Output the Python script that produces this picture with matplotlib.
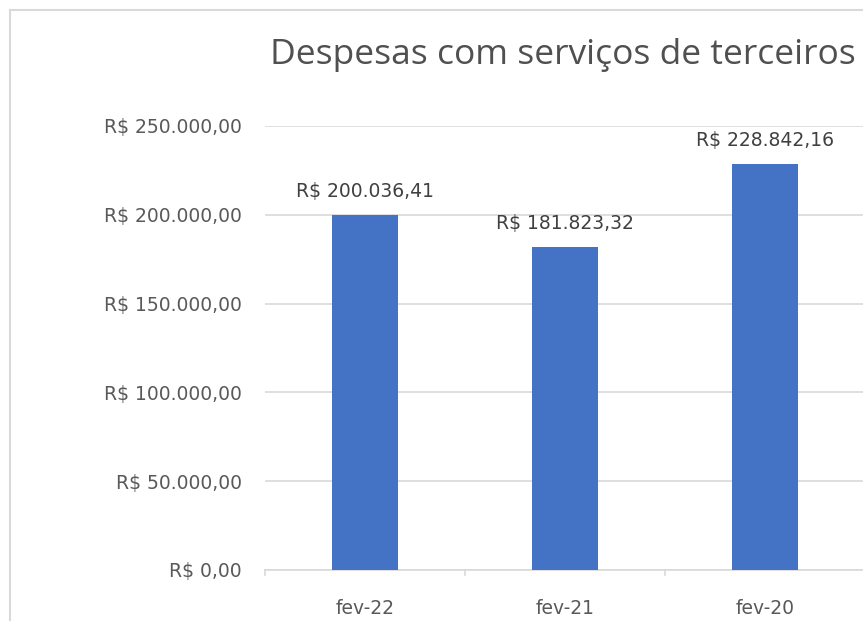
import matplotlib.pyplot as plt
from matplotlib.patches import Rectangle
from matplotlib.ticker import FuncFormatter

# dados do gráfico
categorias = ['fev-22', 'fev-21', 'fev-20']
valores = [200036.41, 181823.32, 228842.16]
titulo = 'Despesas com serviços de terceiros'


def reais(v, casas=2):
    s = f'{v:,.{casas}f}'
    s = s.replace(',', 'X').replace('.', ',').replace('X', '.')
    return 'R$ ' + s


plt.rcParams['font.family'] = ['DejaVu Sans']

W, H = 863, 621
fig = plt.figure(figsize=(W / 100, H / 100), dpi=100)

# moldura do gráfico (cortada à direita e embaixo)
fig.patches.append(Rectangle((10 / W, -0.1), 1.2, (H - 10) / H + 0.1,
                             transform=fig.transFigure, fill=False,
                             edgecolor='#d9d9d9', linewidth=1.5))

ax = fig.add_axes([265 / W, (H - 570) / H, 600 / W, 444 / H])
x = range(len(categorias))
ax.bar(x, valores, width=0.33, color='#4472c4', zorder=3)

ax.set_xlim(-0.5, 2.5)
ax.set_ylim(0, 250000)
ax.set_yticks(range(0, 250001, 50000))
ax.yaxis.set_major_formatter(FuncFormatter(lambda v, p: reais(v)))
ax.set_xticks(list(x))
ax.set_xticklabels(categorias)

ax.grid(axis='y', color='#d9d9d9', linewidth=1.2, zorder=0)
for s in ['top', 'right', 'left']:
    ax.spines[s].set_visible(False)
ax.spines['bottom'].set_color('#d9d9d9')
ax.spines['bottom'].set_linewidth(1.2)
ax.tick_params(axis='y', length=0, pad=16.5, labelsize=13.5, labelcolor='#595959')
ax.tick_params(axis='x', length=0, pad=21, labelsize=13.5, labelcolor='#595959')

# marcas entre categorias
for xm in [-0.5, 0.5, 1.5]:
    ax.plot([xm, xm], [0, -3000], color='#d9d9d9', lw=1.2, clip_on=False)

for xi, v in zip(x, valores):
    ax.annotate(reais(v), (xi, v), xytext=(0, 10), textcoords='offset points',
                ha='center', va='bottom', fontsize=13.5, color='#404040')

fig.text(563 / W, 1 - 55 / H, titulo, ha='center', va='center',
         fontsize=25.5, color='#505050', family=['Open Sans', 'DejaVu Sans'])

plt.savefig('out.png', dpi=100)
